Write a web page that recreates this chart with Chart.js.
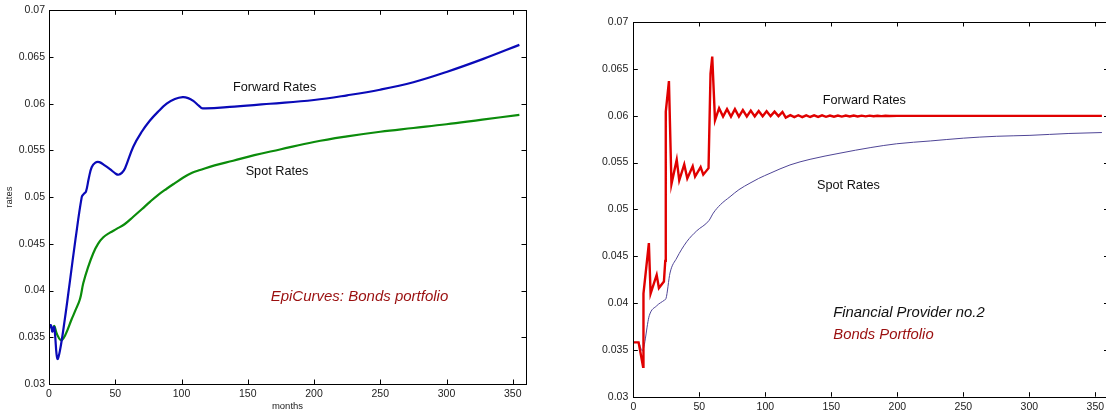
<!DOCTYPE html>
<html lang="en">
<head>
<meta charset="UTF-8">
<title>Forward and spot rates: EpiCurves vs Financial Provider no.2</title>
<script src="https://cdn.jsdelivr.net/npm/chart.js@4.4.1/dist/chart.umd.min.js"></script>
<style>
    html, body { margin: 0; padding: 0; background: #fff; overflow: hidden; }
    .wrap { position: relative; width: 1106px; height: 411px; overflow: hidden; }
    #left { position: absolute; left: 0; top: 0; width: 545px; height: 411px; }
    #right { position: absolute; left: 560px; top: 0; width: 560px; height: 411px; }
</style>
</head>
<body>
<div class="wrap">
    <canvas id="left" width="545" height="411"></canvas>
    <canvas id="right" width="560" height="411"></canvas>
</div>

<script>
// left panel: EpiCurves, bonds portfolio
const epiFwdMonths = [0, 1.5, 2.5, 3.8, 4.5, 6.3, 8.3, 12, 15.6, 20, 24.7, 26, 27.9, 30, 32.2, 35, 38, 42, 46, 50, 52.3, 55, 57.4, 63.6, 70, 76.2, 82, 88.8, 95, 100.9, 105, 108.9, 113, 116, 140, 166.8, 200, 225, 249.8, 275, 300, 327.8, 355];
const epiFwdRates = [0.0360, 0.0363, 0.0356, 0.0361, 0.0354, 0.0327, 0.0336, 0.0370, 0.0408, 0.0455, 0.0500, 0.0503, 0.0506, 0.0520, 0.0532, 0.0537, 0.05375, 0.0534, 0.0530, 0.05255, 0.0524, 0.0526, 0.0531, 0.0554, 0.0570, 0.0582, 0.0591, 0.0600, 0.0605, 0.0607, 0.0606, 0.0603, 0.0598, 0.0595, 0.0597, 0.0600, 0.0604, 0.0609, 0.0615, 0.0623, 0.0634, 0.0648, 0.0663];
const epiSpotMonths = [0, 1.5, 2.8, 4, 5.8, 8.8, 11, 14, 17, 20, 23.4, 25.9, 29.5, 33.4, 37, 41, 46, 51, 57, 63.6, 70, 76.2, 82, 88.8, 95, 101.4, 108, 114, 125, 139, 155, 174.3, 200, 225, 250, 275, 300, 327, 355];
const epiSpotRates = [0.0362, 0.0361, 0.0358, 0.0362, 0.0354, 0.0347, 0.0349, 0.0358, 0.0369, 0.0379, 0.0391, 0.0408, 0.0425, 0.0440, 0.0450, 0.0457, 0.0462, 0.0466, 0.0471, 0.0479, 0.0487, 0.0495, 0.0502, 0.0509, 0.0515, 0.0521, 0.0526, 0.0529, 0.0534, 0.0539, 0.0545, 0.0551, 0.0559, 0.0565, 0.0570, 0.0574, 0.0578, 0.0583, 0.0588];

// right panel: Financial Provider no.2
const fp2FwdMonths = [0, 4, 7.4, 7.7, 11.8, 13.1, 17.7, 19.4, 23.2, 24.2, 24.6, 27, 28.9, 32.9, 34.8, 38.6, 40.9, 45, 46.8, 51, 53, 57, 58.5, 59.8, 61.9, 65, 68, 71, 74, 77, 80, 83, 86, 89, 92, 95, 98, 101, 104, 107, 110, 113, 115.5, 119, 122, 125, 128, 131, 134, 137, 140, 143, 146, 149, 152, 155, 158, 161, 164, 167, 170, 173, 176, 179, 182, 185, 188, 191, 194, 200, 355];
const fp2FwdRates = [0.0358, 0.0358, 0.0332, 0.0410, 0.0464, 0.0410, 0.0430, 0.0416, 0.0423, 0.0445, 0.0604, 0.0637, 0.0527, 0.0553, 0.0531, 0.0548, 0.0533, 0.0546, 0.0535, 0.0545, 0.0537, 0.0544, 0.0645, 0.0663, 0.0595, 0.0608, 0.0599, 0.0607, 0.0599, 0.0607, 0.0599, 0.0606, 0.05992, 0.06055, 0.05993, 0.0605, 0.05993, 0.06047, 0.05995, 0.06043, 0.05995, 0.0604, 0.0598, 0.06005, 0.05985, 0.06005, 0.05985, 0.06004, 0.05986, 0.06003, 0.05987, 0.06003, 0.05988, 0.06002, 0.05989, 0.06002, 0.0599, 0.06001, 0.05991, 0.06001, 0.05992, 0.06, 0.05993, 0.06, 0.05994, 0.05999, 0.05995, 0.05999, 0.05996, 0.05998, 0.05998];
const fp2SpotMonths = [0, 3.8, 6.8, 12.1, 17.7, 23.5, 24.8, 27.8, 32.9, 40.5, 48, 57.3, 60.6, 66, 73.3, 80, 88.4, 95, 103.6, 118.7, 133.9, 156.6, 180, 199.5, 225, 250, 275, 300.5, 330, 355];
const fp2SpotRates = [0.0358, 0.0358, 0.0349, 0.03865, 0.0397, 0.0403, 0.0405, 0.0432, 0.0448, 0.04655, 0.0477, 0.0488, 0.0496, 0.0505, 0.05135, 0.0521, 0.0528, 0.0533, 0.05385, 0.05474, 0.05534, 0.0560, 0.0566, 0.0570, 0.0573, 0.0576, 0.0578, 0.0579, 0.0581, 0.0582];

// axis ranges / ticks
const monthRange = [0, 360];
const monthStep = 50;
const rateRange = [0.03, 0.07];
const rateStep = 0.005;

const FONT = "'Liberation Sans', Arial, Helvetica, sans-serif";
Chart.defaults.font.family = FONT;
Chart.defaults.color = '#222';

const pts = (xs, ys) => xs.map((x, i) => ({ x: x, y: ys[i] }));

// box round the plot with small inward ticks on every side (matlab style)
const framePlugin = {
    id: 'frame',
    afterDraw(chart) {
        const { ctx, chartArea: a, scales: { x, y } } = chart;
        const L = 4.5;
        ctx.save();
        ctx.strokeStyle = '#000';
        ctx.lineWidth = 1;
        ctx.beginPath();
        x.ticks.forEach(t => {
            const px = Math.round(x.getPixelForValue(t.value)) + 0.5;
            ctx.moveTo(px, a.bottom); ctx.lineTo(px, a.bottom - L);
            ctx.moveTo(px, a.top); ctx.lineTo(px, a.top + L);
        });
        y.ticks.forEach(t => {
            const py = Math.round(y.getPixelForValue(t.value)) + 0.5;
            ctx.moveTo(a.left, py); ctx.lineTo(a.left + L, py);
            ctx.moveTo(a.right, py); ctx.lineTo(a.right - L, py);
        });
        ctx.stroke();
        ctx.strokeRect(Math.round(a.left) + 0.5, Math.round(a.top) + 0.5,
                       Math.round(a.right - a.left), Math.round(a.bottom - a.top));
        ctx.restore();
    }
};

// text notes placed in data coordinates
const notesPlugin = {
    id: 'notes',
    afterDraw(chart, args, opts) {
        const { ctx, scales: { x, y } } = chart;
        ctx.save();
        ctx.textBaseline = 'middle';
        ctx.textAlign = 'left';
        (opts.items || []).forEach(n => {
            ctx.font = (n.italic ? 'italic ' : '') + n.size + 'px ' + FONT;
            ctx.fillStyle = n.color || '#111';
            ctx.fillText(n.text, x.getPixelForValue(n.x), y.getPixelForValue(n.y));
        });
        ctx.restore();
    }
};

function makeScales(p) {
    return {
        x: {
            type: 'linear',
            min: monthRange[0], max: monthRange[1],
            grid: { display: false, drawTicks: false },
            border: { display: false },
            ticks: { stepSize: monthStep, includeBounds: false, autoSkip: false, maxRotation: 0,
                     padding: p.xPad, font: { size: 10.5 }, color: '#222' },
            title: { display: !!p.xTitle, text: p.xTitle, font: { size: 9.5 }, color: '#222',
                     padding: { top: 0, bottom: -1 } },
            afterFit(s) { s.height = p.xHeight; }
        },
        y: {
            type: 'linear',
            min: rateRange[0], max: rateRange[1],
            grid: { display: false, drawTicks: false },
            border: { display: false },
            ticks: { stepSize: rateStep, includeBounds: false, autoSkip: false,
                     padding: p.yPad, font: { size: 10.5 }, color: '#222',
                     callback: v => String(+v.toFixed(3)) },
            title: { display: !!p.yTitle, text: p.yTitle, font: { size: 9.5 }, color: '#222',
                     padding: { top: 4, bottom: 0 } },
            afterFit(s) { s.width = p.yWidth; }
        }
    };
}

// EpiCurves panel
new Chart(document.getElementById('left'), {
    type: 'line',
    data: {
        datasets: [{
            label: 'Forward Rates',
            data: pts(epiFwdMonths, epiFwdRates),
            borderColor: '#0a0ab8',
            borderWidth: 2.2,
            tension: 0.4,
            pointRadius: 0
        }, {
            label: 'Spot Rates',
            data: pts(epiSpotMonths, epiSpotRates),
            borderColor: '#0b8c0b',
            borderWidth: 2.2,
            tension: 0.4,
            pointRadius: 0
        }]
    },
    options: {
        responsive: false,
        animation: false,
        layout: { padding: { left: 0, top: 9.5, right: 19, bottom: 0 } },
        scales: makeScales({ xPad: 3.5, yPad: 4, xHeight: 27, yWidth: 49, xTitle: 'months', yTitle: 'rates' }),
        plugins: {
            legend: { display: false },
            tooltip: { enabled: false },
            notes: { items: [
                { text: 'Forward Rates', x: 138.9, y: 0.06176, size: 12.7 },
                { text: 'Spot Rates', x: 148.4, y: 0.05279, size: 12.7 },
                { text: 'EpiCurves: Bonds portfolio', x: 167.3, y: 0.03933, size: 15, italic: true, color: '#9a0f0f' }
            ] }
        }
    },
    plugins: [framePlugin, notesPlugin]
});

// Financial Provider no.2 panel
new Chart(document.getElementById('right'), {
    type: 'line',
    data: {
        datasets: [{
            label: 'Forward Rates',
            data: pts(fp2FwdMonths, fp2FwdRates),
            borderColor: '#e00000',
            borderWidth: 2.4,
            tension: 0,
            pointRadius: 0
        }, {
            label: 'Spot Rates',
            data: pts(fp2SpotMonths, fp2SpotRates),
            borderColor: '#4f4596',
            borderWidth: 1,
            cubicInterpolationMode: 'monotone',
            pointRadius: 0
        }]
    },
    options: {
        responsive: false,
        animation: false,
        layout: { padding: { left: 0, top: 22, right: 11.5, bottom: 0 } },
        scales: makeScales({ xPad: 4, yPad: 5, xHeight: 14.3, yWidth: 73.3 }),
        plugins: {
            legend: { display: false },
            tooltip: { enabled: false },
            notes: { items: [
                { text: 'Forward Rates', x: 143.5, y: 0.0616, size: 12.7 },
                { text: 'Spot Rates', x: 139.2, y: 0.05252, size: 12.7 },
                { text: 'Financial Provider no.2', x: 151.5, y: 0.0389, size: 14.8, italic: true, color: '#111' },
                { text: 'Bonds Portfolio', x: 151.5, y: 0.03657, size: 14.8, italic: true, color: '#9a0f0f' }
            ] }
        }
    },
    plugins: [framePlugin, notesPlugin]
});
</script>
</body>
</html>
